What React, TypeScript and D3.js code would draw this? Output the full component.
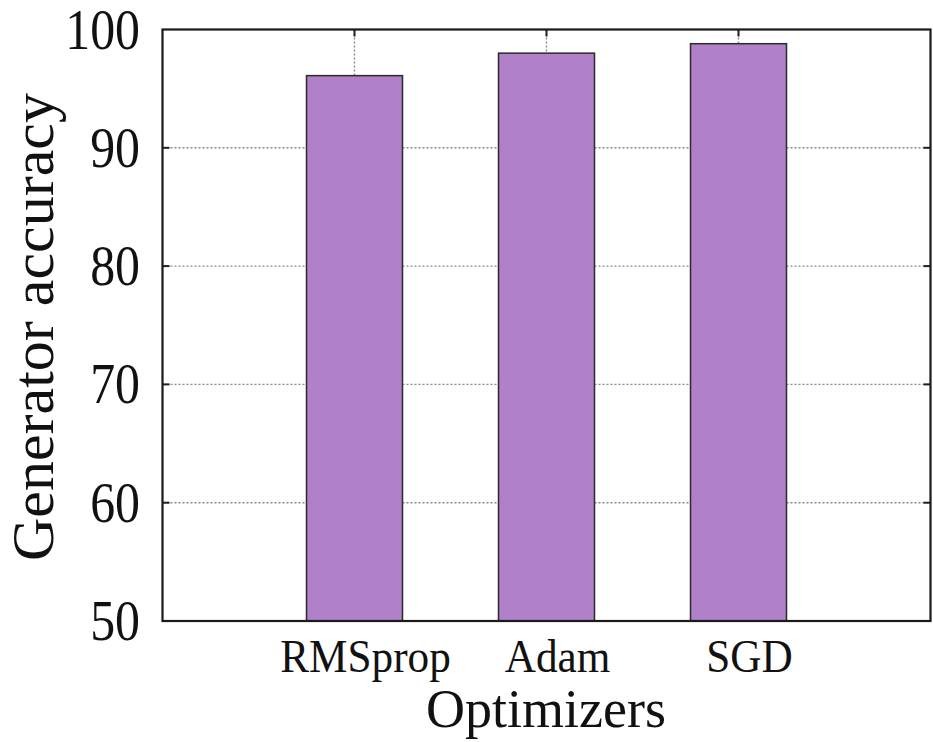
import React from 'react';
import * as d3 from 'd3';

// optimizer comparison, values
const optimizers = ['RMSprop', 'Adam', 'SGD'];
const accuracy = [96.1, 98.0, 98.8];
const yTicks = [50, 60, 70, 80, 90, 100];

const W = 933;
const H = 742;
const plot = { left: 162.5, right: 930.5, top: 29.5, bottom: 621 };
const FONT = '"Liberation Serif", "DejaVu Serif", serif';
const BAR_FILL = '#b080c8';

const App: React.FC = () => {
  const x = d3.scaleLinear().domain([-1, optimizers.length]).range([plot.left, plot.right]);
  const y = d3.scaleLinear().domain([50, 100]).range([plot.bottom, plot.top]);
  const barW = x(0.25) - x(-0.25);

  return (
    <svg
      width={W}
      height={H}
      style={{ position: 'absolute', left: 0, top: 0, background: '#fff' }}
    >
      {/* horizontal grid */}
      {yTicks.filter(t => t > 50 && t < 100).map(t => (
        <g key={`gy-${t}`}>
          <line
            x1={plot.left}
            x2={plot.right}
            y1={y(t)}
            y2={y(t)}
            stroke="#8a8a8a"
            strokeWidth={1.4}
            strokeDasharray="2,2"
          />
          <line x1={plot.left} x2={plot.left + 7} y1={y(t)} y2={y(t)} stroke="#222" strokeWidth={2} />
          <line x1={plot.right - 7} x2={plot.right} y1={y(t)} y2={y(t)} stroke="#222" strokeWidth={2} />
        </g>
      ))}

      {/* vertical grid at categories */}
      {optimizers.map((name, i) => (
        <g key={`gx-${name}`}>
          <line
            x1={x(i)}
            x2={x(i)}
            y1={plot.top}
            y2={plot.bottom}
            stroke="#8a8a8a"
            strokeWidth={1.4}
            strokeDasharray="2,2"
          />
          <line x1={x(i)} x2={x(i)} y1={plot.top} y2={plot.top + 7} stroke="#222" strokeWidth={2} />
        </g>
      ))}

      {/* bars */}
      {optimizers.map((name, i) => (
        <rect
          key={`bar-${name}`}
          x={x(i) - barW / 2}
          y={y(accuracy[i])}
          width={barW}
          height={y(50) - y(accuracy[i])}
          fill={BAR_FILL}
          stroke="#2a2a2a"
          strokeWidth={1.5}
        />
      ))}

      {/* frame */}
      <rect
        x={plot.left}
        y={plot.top}
        width={plot.right - plot.left}
        height={plot.bottom - plot.top}
        fill="none"
        stroke="#1a1a1a"
        strokeWidth={2.2}
      />

      {/* y tick labels */}
      {yTicks.map(t => (
        <text
          key={`yl-${t}`}
          transform={`translate(140, ${y(t) + 19}) scale(0.86, 1)`}
          textAnchor="end"
          fontFamily={FONT}
          fontSize={58}
          fill="#111"
        >
          {t}
        </text>
      ))}

      {/* x tick labels */}
      {optimizers.map((name, i) => (
        <text
          key={`xl-${name}`}
          transform={`translate(${x(i) + 11}, 672) scale(0.95, 1)`}
          textAnchor="middle"
          fontFamily={FONT}
          fontSize={45.5}
          fill="#111"
        >
          {name}
        </text>
      ))}

      {/* axis titles */}
      <text x={546} y={727} textAnchor="middle" fontFamily={FONT} fontSize={54} fill="#111">
        Optimizers
      </text>
      <text
        transform="translate(53, 327) rotate(-90)"
        textAnchor="middle"
        fontFamily={FONT}
        fontSize={60}
        fill="#111"
      >
        Generator accuracy
      </text>
    </svg>
  );
};

export default App;
